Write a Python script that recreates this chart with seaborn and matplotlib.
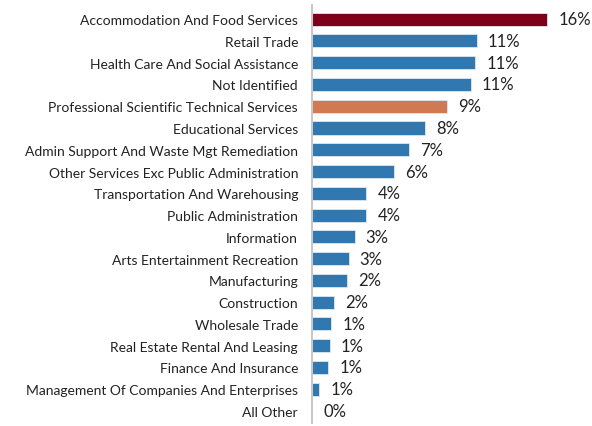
import pandas as pd
import seaborn as sns
import matplotlib.pyplot as plt

sns.set_style("white")
plt.rcParams['font.family'] = ['Lato', 'DejaVu Sans']

# Données
industries = [
    "Accommodation And Food Services", "Retail Trade", "Health Care And Social Assistance",
    "Not Identified", "Professional Scientific Technical Services", "Educational Services",
    "Admin Support And Waste Mgt Remediation", "Other Services Exc Public Administration",
    "Transportation And Warehousing", "Public Administration", "Information",
    "Arts Entertainment Recreation", "Manufacturing", "Construction", "Wholesale Trade",
    "Real Estate Rental And Leasing", "Finance And Insurance",
    "Management Of Companies And Enterprises", "All Other",
]
shares = [16.0, 11.2, 11.1, 10.8, 9.2, 7.7, 6.6, 5.6, 3.7, 3.7, 2.9, 2.5, 2.4,
          1.5, 1.3, 1.2, 1.1, 0.5, 0.0]
labels = ["16%", "11%", "11%", "11%", "9%", "8%", "7%", "6%", "4%", "4%", "3%", "3%",
          "2%", "2%", "1%", "1%", "1%", "1%", "0%"]

colors = ["#7f0019"] + ["#3178b0"] * 3 + ["#d07a52"] + ["#3178b0"] * 14

df = pd.DataFrame({"industry": industries, "share": shares})

fig = plt.figure(figsize=(5.92, 4.27), dpi=100)
ax = fig.add_axes([312 / 592, 3 / 427, 280 / 592, 418 / 427])
sns.barplot(data=df, x="share", y="industry", hue="industry", palette=colors,
            saturation=1, legend=False, width=0.6, edgecolor="#dce8f2",
            linewidth=0.6, ax=ax)

for i, (v, lab) in enumerate(zip(shares, labels)):
    ax.text(v + 0.75, i, lab, va="center", ha="left", fontsize=12, color="#222222")

ax.set_xlim(0, 280 / 14.7)
ax.set_ylim(18.55, -0.65)
ax.set_xlabel("")
ax.set_ylabel("")
ax.set_xticks([])
ax.tick_params(axis="y", length=0, pad=10, labelsize=10, labelcolor="#222222")
sns.despine(ax=ax, top=True, right=True, bottom=True)
ax.spines["left"].set_color("#c8c8c8")
ax.spines["left"].set_linewidth(1.5)

fig.savefig("out.png", dpi=100)
